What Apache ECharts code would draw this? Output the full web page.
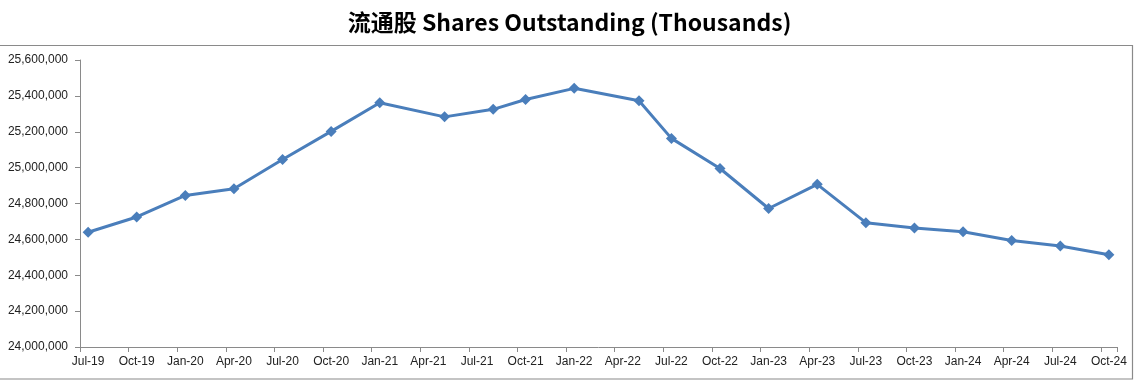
<!DOCTYPE html>
<html>
<head>
<meta charset="utf-8">
<script src="https://cdn.jsdelivr.net/npm/echarts@6/dist/echarts.min.js"></script>
<style>
html,body{margin:0;padding:0;background:#fff;}
#c{width:1139px;height:387px;}
</style>
</head>
<body>
<div id="c"></div>
<script>
// Month slots on the date axis (one category per month, labels every quarter)
var months = ['Jul-19','Aug-19','Sep-19','Oct-19','Nov-19','Dec-19',
  'Jan-20','Feb-20','Mar-20','Apr-20','May-20','Jun-20','Jul-20','Aug-20','Sep-20','Oct-20','Nov-20','Dec-20',
  'Jan-21','Feb-21','Mar-21','Apr-21','May-21','Jun-21','Jul-21','Aug-21','Sep-21','Oct-21','Nov-21','Dec-21',
  'Jan-22','Feb-22','Mar-22','Apr-22','May-22','Jun-22','Jul-22','Aug-22','Sep-22','Oct-22','Nov-22','Dec-22',
  'Jan-23','Feb-23','Mar-23','Apr-23','May-23','Jun-23','Jul-23','Aug-23','Sep-23','Oct-23','Nov-23','Dec-23',
  'Jan-24','Feb-24','Mar-24','Apr-24','May-24','Jun-24','Jul-24','Aug-24','Sep-24','Oct-24'];

// Report months of each observation
var pointDates = ['Jul-19','Oct-19','Jan-20','Apr-20','Jul-20','Oct-20','Jan-21','May-21','Aug-21','Oct-21',
  'Jan-22','May-22','Jul-22','Oct-22','Jan-23','Apr-23','Jul-23','Oct-23','Jan-24','Apr-24','Jul-24','Oct-24'];

// Shares outstanding (thousands)
var shares = [24640000, 24725000, 24845000, 24882000, 25045000, 25202000, 25362000, 25283000, 25325000, 25380000,
  25442000, 25373000, 25163000, 24995000, 24772000, 24907000, 24693000, 24664000, 24643000, 24594000, 24563000, 24514000];

var yMin = 24000000, yMax = 25600000, yStep = 200000;
var titleText = '流通股 Shares Outstanding (Thousands)';

var seriesData = pointDates.map(function (d, i) { return [d, shares[i]]; });

var chart = echarts.init(document.getElementById('c'), null, {renderer: 'canvas'});
chart.setOption({
  animation: false,
  backgroundColor: '#ffffff',
  title: {
    text: titleText,
    left: 'center',
    top: 6,
    textStyle: {
      fontFamily: '"Noto Sans CJK SC", "Noto Sans", sans-serif',
      fontWeight: 'bold',
      fontSize: 23,
      color: '#000'
    }
  },
  graphic: [{
    type: 'rect',
    shape: {x: -2, y: 45.5, width: 1134.5, height: 333.5},
    style: {fill: 'none', stroke: '#8a8a8a', lineWidth: 1.2},
    silent: true
  }],
  grid: {left: 80, right: 22, top: 60, bottom: 40},
  xAxis: {
    type: 'category',
    data: months,
    boundaryGap: true,
    axisLine: {lineStyle: {color: '#8a8a8a', width: 1}},
    axisTick: {show: true, interval: 2, alignWithLabel: false, length: 5, lineStyle: {color: '#8a8a8a'}},
    axisLabel: {
      interval: 2,
      margin: 9,
      fontFamily: '"Liberation Sans", Arial, sans-serif',
      fontSize: 12,
      color: '#222'
    },
    splitLine: {show: false}
  },
  yAxis: {
    type: 'value',
    min: yMin,
    max: yMax,
    interval: yStep,
    axisLine: {show: true, lineStyle: {color: '#8a8a8a', width: 1}},
    axisTick: {show: true, length: 5, lineStyle: {color: '#8a8a8a'}},
    axisLabel: {
      margin: 12,
      fontFamily: '"Liberation Sans", Arial, sans-serif',
      fontSize: 12,
      color: '#222',
      formatter: function (v) { return v.toLocaleString('en-US'); }
    },
    splitLine: {show: false}
  },
  series: [{
    type: 'line',
    data: seriesData,
    symbol: 'diamond',
    symbolSize: 11,
    showAllSymbol: true,
    lineStyle: {color: '#4a7ebb', width: 3},
    itemStyle: {color: '#4a7ebb'}
  }]
});
</script>
</body>
</html>
